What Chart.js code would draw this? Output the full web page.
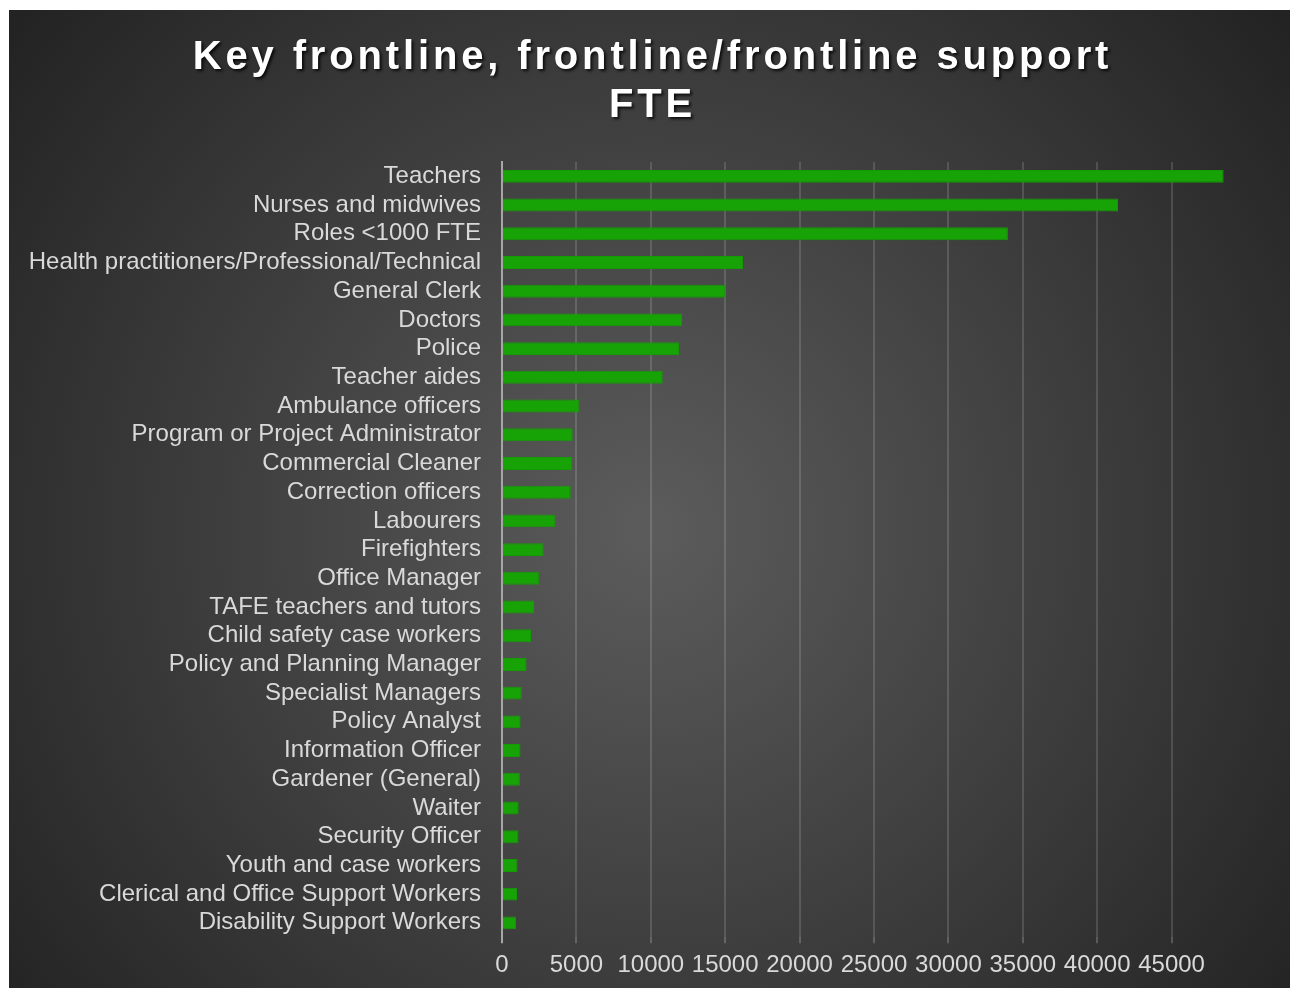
<!DOCTYPE html>
<html>
<head>
<meta charset="utf-8">
<script src="https://cdn.jsdelivr.net/npm/chart.js@4"></script>
<style>
  html, body { margin: 0; padding: 0; background: #fff; }
  #wrap { position: absolute; left: 9px; top: 10px; width: 1281px; height: 978px; }
</style>
</head>
<body>
<div id="wrap"><canvas id="fteChart" width="1281" height="978"></canvas></div>
<script>
const roles = [
  "Teachers", "Nurses and midwives", "Roles <1000 FTE",
  "Health practitioners/Professional/Technical", "General Clerk", "Doctors",
  "Police", "Teacher aides", "Ambulance officers",
  "Program or Project Administrator", "Commercial Cleaner", "Correction officers",
  "Labourers", "Firefighters", "Office Manager", "TAFE teachers and tutors",
  "Child safety case workers", "Policy and Planning Manager", "Specialist Managers",
  "Policy Analyst", "Information Officer", "Gardener (General)", "Waiter",
  "Security Officer", "Youth and case workers", "Clerical and Office Support Workers",
  "Disability Support Workers"
];

const fte = [
  48500, 41400, 34000, 16200, 15000, 12100, 11900, 10800, 5200,
  4750, 4730, 4620, 3600, 2800, 2480, 2150, 1950, 1650, 1330,
  1250, 1240, 1200, 1120, 1110, 1050, 1010, 950
];

const titleLines = ["Key frontline, frontline/frontline support", "FTE"];

const FONT = "'Liberation Sans', Arial, sans-serif";
const LABEL_COLOR = "#d9d9d9";

// dark radial backdrop like the office chart style
const backdrop = {
  id: "backdrop",
  beforeDraw(chart) {
    const { ctx, width, height } = chart;
    const g = ctx.createRadialGradient(width / 2, height / 2 + 30, 0, width / 2, height / 2 + 30, 810);
    g.addColorStop(0, "#5c5c5c");
    g.addColorStop(1, "#232323");
    ctx.save();
    ctx.fillStyle = g;
    ctx.fillRect(0, 0, width, height);
    ctx.restore();

    // spaced-out, shadowed title, centred on the whole canvas
    const tb = chart.titleBlock;
    if (tb && !tb._wrapped) {
      const orig = tb.draw.bind(tb);
      tb.draw = function () {
        const c = chart.ctx;
        c.save();
        c.translate(25, 0);
        c.letterSpacing = "3.85px";
        c.shadowColor = "rgba(0,0,0,0.8)";
        c.shadowOffsetX = 2;
        c.shadowOffsetY = 2;
        c.shadowBlur = 3;
        orig();
        c.restore();
      };
      tb._wrapped = true;
    }
  }
};

new Chart(document.getElementById("fteChart").getContext("2d"), {
  type: "bar",
  data: {
    labels: roles,
    datasets: [{
      data: fte,
      backgroundColor: "#17a305",
      borderColor: "#159a06",
      borderWidth: 1,
      barPercentage: 0.45,
      categoryPercentage: 1
    }]
  },
  options: {
    indexAxis: "y",
    responsive: false,
    animation: false,
    layout: { padding: { left: 0, right: 44, top: 0, bottom: 0 } },
    plugins: {
      legend: { display: false },
      tooltip: { enabled: false },
      title: {
        display: true,
        text: titleLines,
        color: "#ffffff",
        font: { family: FONT, size: 40, weight: "bold", lineHeight: 1.2 },
        padding: { top: 24, bottom: 32 }
      }
    },
    scales: {
      x: {
        min: 0,
        max: 50000,
        border: { display: false },
        grid: {
          color: ctx => (ctx.tick && (ctx.tick.value === 0 || ctx.tick.value === 50000)) ? "rgba(0,0,0,0)" : "rgba(255,255,255,0.14)",
          lineWidth: 2,
          tickLength: 6,
          tickColor: ctx => (ctx.tick && ctx.tick.value === 0) ? "#a6a6a6" : (ctx.tick && ctx.tick.value === 50000 ? "rgba(0,0,0,0)" : "rgba(255,255,255,0.2)")
        },
        ticks: {
          stepSize: 5000,
          maxRotation: 0,
          autoSkip: false,
          padding: 8,
          color: LABEL_COLOR,
          font: { family: FONT, size: 24 },
          callback: v => (v === 50000 ? "" : String(v))
        }
      },
      y: {
        border: { display: true, color: "#a6a6a6", width: 2 },
        grid: { display: false, drawTicks: false },
        ticks: {
          padding: 21,
          autoSkip: false,
          color: LABEL_COLOR,
          font: { family: FONT, size: 24 }
        },
        afterFit(scale) { scale.width = 493; }
      }
    }
  },
  plugins: [backdrop]
});
</script>
</body>
</html>
